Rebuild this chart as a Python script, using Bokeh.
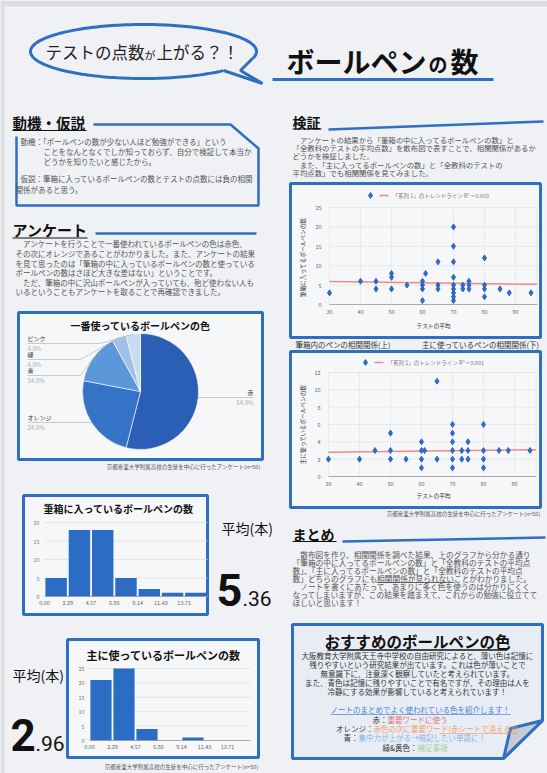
import numpy as np
from math import pi
from bokeh.plotting import figure
from bokeh.models import Range1d
from bokeh.core.properties import value
from bokeh.embed import file_html
from bokeh.resources import INLINE

# ---------------- data ----------------
pie_labels = ["赤", "オレンジ", "青", "緑", "ピンク"]
pie_values = [27, 12, 7, 2, 2]
pie_colors = ["#2b5fb5", "#3573c6", "#5b97d9", "#a2c0e8", "#c9dbf1"]

hist_bins = ["0.00", "2.29", "4.57", "6.86", "9.14", "11.43", "13.71"]
hist1_counts = [5, 18, 18, 5, 2, 1, 1]
hist2_counts = [21, 25, 4, 0, 1, 0, 0]
hist1_yticks = [0, 5, 10, 15, 20]
hist2_yticks = [0, 5, 10, 15, 20, 25]

s1_x = [30, 40, 45, 45, 50, 50, 50, 55, 60, 60, 60, 60, 61, 65, 65, 65, 70, 70, 70, 70, 70,
        70, 70, 70, 70, 73, 73, 75, 75, 75, 80, 80, 80, 80, 85, 88, 95]
s1_y = [3, 6, 6, 4, 8, 7, 4, 5, 6, 5, 4, 1, 8, 11, 5, 4, 20, 15, 11, 7, 5,
        4, 3, 2, 1, 5, 4, 6, 5, 4, 12, 5, 4, 2, 4, 3, 3]
s1_trend_x = [30, 97]
s1_trend_y = [5.9, 5.2]
s1_yticks = [0, 5, 10, 15, 20, 25]

s2_x = [30, 40, 45, 50, 50, 50, 55, 60, 60, 60, 60, 61, 65, 65, 70, 70, 70, 70, 70, 70,
        73, 73, 75, 75, 75, 80, 80, 80, 80, 85, 88, 95]
s2_y = [2, 2, 3, 5, 3, 2, 2, 4, 3, 2, 1, 3, 11, 2, 6, 5, 4, 3, 2, 1,
        3, 2, 4, 3, 2, 6, 3, 2, 1, 3, 3, 3]
s2_trend_x = [30, 97]
s2_trend_y = [2.8, 3.1]
s2_yticks = [0, 2, 4, 6, 8, 10, 12]

scatter_xticks = [30, 40, 50, 60, 70, 80, 90]

# ---------------- page ----------------
W, H = 547, 773
FONT = "Noto Sans CJK JP"
BLUE = "#2f6fc2"
BG = "#eff1f4"
BODY = "#555555"

p = figure(width=W, height=H, x_range=Range1d(0, W), y_range=Range1d(H, 0),
           output_backend="svg", toolbar_location=None, min_border=0,
           x_axis_location=None, y_axis_location=None, outline_line_color=None,
           background_fill_color=BG, border_fill_color=BG, title=None)
p.grid.visible = False


def add_xr(name, v0, v1, px0, px1):
    s = (v1 - v0) / (px1 - px0)
    r = dict(p.extra_x_ranges)
    r[name] = Range1d(v0 - px0 * s, v0 + (W - px0) * s)
    p.extra_x_ranges = r


def add_yr(name, v0, v1, py_bot, py_top):
    s = (v1 - v0) / (py_bot - py_top)
    start = v0 - (H - py_bot) * s
    r = dict(p.extra_y_ranges)
    r[name] = Range1d(start, start + H * s)
    p.extra_y_ranges = r


def T(x, y, s, size, color="#222222", align="left", bold=False, angle=0,
      baseline="middle", font=FONT, rn=None, **kw):
    extra = {}
    if rn:
        extra = dict(x_range_name=rn, y_range_name=rn)
    p.text(x=[x], y=[y], text=[s], text_font=value(font), text_font_size=f"{size}px",
           text_color=color, text_align=align, text_baseline=baseline,
           text_font_style="bold" if bold else "normal", angle=angle, **extra, **kw)


def L(xs, ys, color=BLUE, width=2.5, rn=None, **kw):
    extra = {}
    if rn:
        extra = dict(x_range_name=rn, y_range_name=rn)
    p.line(xs, ys, line_color=color, line_width=width, **extra, **kw)


def box(l, r, t, b, fill="#f6f7f9", color=BLUE, width=3):
    p.quad(left=l, right=r, top=t, bottom=b, fill_color=fill, line_color=color, line_width=width)


# photo edges
p.quad(left=0, right=W, top=0, bottom=6, fill_color="#dcdde1", line_color=None)
p.quad(left=0, right=4, top=0, bottom=H, fill_color="#dcdde1", line_color=None)

# ---------------- header ----------------
t = np.linspace(np.radians(45), np.radians(375), 200)
L(143 + 113 * np.cos(t), 51 + 27 * np.sin(t), width=3)
L([252, 240, 262, 223], [58, 70, 83, 70], width=3)
T(45, 51, "テストの点数", 16.5)
T(144, 54, "が", 11)
T(156, 51, "上がる？！", 16.5)

T(286, 60, "ボールペン", 28, bold=True, color="#111111")
T(428, 63, "の", 19, bold=True, color="#111111")
T(450, 60, "数", 28, bold=True, color="#111111")
L([272, 493], [79, 79], width=3)

# ---------------- 動機・仮説 ----------------
T(12, 122, "動機・仮説", 14.5, bold=True, color="#111111")
L([12, 86], [130, 130], color="#111111", width=1.2)
L([93, 230, 258, 258, 16, 16], [124, 124, 148, 205, 205, 136], width=2.5)
for x, y, s in [(20, 141, "動機：「ボールペンの数が少ない人ほど勉強ができる」という"),
                (43, 151, "ことをなんとなくでしか知っておらず、自分で検証して本当か"),
                (43, 161, "どうかを知りたいと感じたから。"),
                (20, 178, "仮説：筆箱に入っているボールペンの数とテストの点数には負の相関"),
                (15, 189, "関係があると思う。")]:
    T(x, y, s, 7.5, color=BODY)

# ---------------- アンケート ----------------
T(12, 229, "アンケート", 15, bold=True, color="#111111")
L([12, 87], [237.5, 237.5], color="#111111", width=1.2)
L([95, 256], [233, 233], width=2.5)
for x, y, s in [(15, 243, "　アンケートを行うことで一番使われているボールペンの色は赤色、"),
                (15, 253, "その次にオレンジであることがわかりました。また、アンケートの結果"),
                (15, 263, "を見て思ったのは「筆箱の中に入っているボールペンの数と使っている"),
                (15, 272, "ボールペンの数はさほど大きな差はない」ということです。"),
                (15, 282, "　ただ、筆箱の中に沢山ボールペンが入っていても、殆ど使わない人も"),
                (15, 291, "いるということもアンケートを取ることで再確認できました。")]:
    T(x, y, s, 7.5, color=BODY)

# ---------------- pie ----------------
box(18, 262, 312, 459)
T(140, 325, "一番使っているボールペンの色", 10, bold=True, align="center", color="#111111")
CX, CY, R = 140, 391, 58
vals = np.array(pie_values, dtype=float)
frac = vals / vals.sum()
cum = np.concatenate([[0.0], np.cumsum(frac)])
starts = pi / 2 - 2 * pi * cum[:-1]
ends = pi / 2 - 2 * pi * cum[1:]
p.wedge(x=CX, y=CY, radius=R, start_angle=starts, end_angle=ends, direction="clock",
        fill_color=pie_colors, line_color="white", line_width=0.6)
mids = (starts + ends) / 2
# label layout: (line y, elbow x, label x, align)
label_layout = [(397, None, 253, "right"), (422, None, 27, "left"), (375, 80, 27, "left"),
                (359, 80, 27, "left"), (343, 100, 27, "left")]
for i, (ly, ex, lx, al) in enumerate(label_layout):
    px_ = CX + R * np.cos(mids[i])
    py_ = CY - R * np.sin(mids[i])
    if ex is None:
        L([px_, lx], [ly, ly], color="#aaaaaa", width=0.6)
    else:
        L([px_, ex, lx], [py_, ly, ly], color="#aaaaaa", width=0.6)
    T(lx, ly - 5, pie_labels[i], 6, color="#333333", align=al)
    T(lx, ly + 5, f"{frac[i] * 100:.1f}%", 6, color="#aaaaaa", align=al)
T(260, 466, "京都産業大学附属高校の生徒を中心に行ったアンケート(n=50)", 5.5, color="#555555", align="right")


# ---------------- histograms ----------------
def hist_panel(name, counts, yticks, px0, px1, pyb, pyt):
    add_xr(name, 0, len(counts), px0, px1)
    add_yr(name, 0, yticks[-1], pyb, pyt)
    p.segment(x0=0, x1=len(counts), y0=yticks, y1=yticks, line_color="#dddddd",
              line_width=0.7, x_range_name=name, y_range_name=name)
    xs = np.arange(len(counts)) + 0.5
    p.vbar(x=xs, width=0.92, top=counts, bottom=0, fill_color="#2b6cc5", line_color=None,
           x_range_name=name, y_range_name=name)
    L([0, len(counts)], [0, 0], color="#999999", width=0.8, rn=name)
    p.text(x=np.arange(len(counts)), y=[0] * len(counts), text=hist_bins,
           text_font=value(FONT), text_font_size="5.5px", text_color="#666666",
           text_align="center", text_baseline="top", y_offset=3,
           x_range_name=name, y_range_name=name)
    p.text(x=[0] * len(yticks), y=yticks, text=[str(v) for v in yticks],
           text_font=value(FONT), text_font_size="5.5px", text_color="#777777",
           text_align="right", text_baseline="middle", x_offset=-5,
           x_range_name=name, y_range_name=name)


box(23, 207, 495, 614)
T(118, 508, "筆箱に入っているボールペンの数", 10, bold=True, align="center", color="#111111")
hist_panel("h1", hist1_counts, hist1_yticks, 44, 207, 596, 522)
T(221, 527, "平均(本)", 14, color="#111111")
T(216, 589, "5", 45, bold=True, font="Roboto", color="#111111")
T(242, 598, ".36", 21, font="Roboto", color="#111111")

box(67, 258, 639, 757)
T(163, 654, "主に使っているボールペンの数", 11, bold=True, align="center", color="#111111")
hist_panel("h2", hist2_counts, hist2_yticks, 89, 250, 740, 668)
T(12, 674, "平均(本)", 14, color="#111111")
T(10, 734, "2", 44, bold=True, font="Roboto", color="#111111")
T(35, 743, ".96", 21, font="Roboto", color="#111111")
T(258, 766, "京都産業大学附属高校の生徒を中心に行ったアンケート(n=50)", 5.5, color="#555555", align="right")

# ---------------- 検証 ----------------
T(292, 121, "検証", 14, bold=True, color="#111111")
L([292, 321], [128.5, 128.5], color="#111111", width=1.2)
L([328, 543], [129, 121], width=2.5)
for x, y, s in [(292, 139, "　アンケートの結果から「筆箱の中に入ってるボールペンの数」と"),
                (292, 147, "「全教科のテストの平均点数」を散布図で表すことで、相関関係があるか"),
                (292, 155, "どうかを検証しました。"),
                (292, 164, "　また、「主に入ってるボールペンの数」と「全教科のテストの"),
                (292, 172, "平均点数」でも相関関係を見てみました。")]:
    T(x, y, s, 7.4, color=BODY)


def scatter_panel(name, xs, ys, tx, ty, yticks, px30, px90, pyb, pyt, ytitle, ytitle_y,
                  xtitle_y, leg_x, leg_y, leg_text):
    add_xr(name, 30, 90, px30, px90)
    add_yr(name, 0, yticks[-1], pyb, pyt)
    xmax = 97
    p.segment(x0=scatter_xticks + [xmax], x1=scatter_xticks + [xmax], y0=0, y1=yticks[-1],
              line_color="#e2e2e2", line_width=0.7, x_range_name=name, y_range_name=name)
    p.segment(x0=30, x1=xmax, y0=yticks, y1=yticks, line_color="#e2e2e2", line_width=0.7,
              x_range_name=name, y_range_name=name)
    L([30, xmax], [0, 0], color="#999999", width=0.8, rn=name)
    L(tx, ty, color="#ee8a8a", width=1.5, rn=name)
    p.scatter(xs, ys, marker="diamond", size=6, fill_color="#2f68c8", line_color="#2f68c8",
              x_range_name=name, y_range_name=name)
    p.text(x=scatter_xticks, y=[0] * len(scatter_xticks), text=[str(v) for v in scatter_xticks],
           text_font=value(FONT), text_font_size="5.5px", text_color="#666666",
           text_align="center", text_baseline="top", y_offset=4,
           x_range_name=name, y_range_name=name)
    p.text(x=[30] * len(yticks), y=yticks, text=[str(v) for v in yticks],
           text_font=value(FONT), text_font_size="5.5px", text_color="#666666",
           text_align="right", text_baseline="middle", x_offset=-8,
           x_range_name=name, y_range_name=name)
    T(302, ytitle_y, ytitle, 5.7, color="#333333", align="center", angle=pi / 2)
    T(433, xtitle_y, "テストの平均", 5.7, color="#333333", align="center")
    p.scatter([leg_x], [leg_y], marker="diamond", size=6, color="#2f68c8")
    L([leg_x + 9, leg_x + 18], [leg_y, leg_y], color="#ee8a8a", width=1.5)
    T(leg_x + 22, leg_y, leg_text, 5.5, color="#777777")


box(290, 540, 183, 337)
scatter_panel("s1", s1_x, s1_y, s1_trend_x, s1_trend_y, s1_yticks, 329, 515, 304, 207,
              "筆箱に入ってるボールペンの数", 257, 325, 370, 195,
              "「系列 1」のトレンドライン R² = 0.003")

T(295, 344, "筆箱内のペンの相関関係(上)", 7.5, color="#333333")
T(539, 344, "主に使っているペンの相関関係(下)", 7.5, color="#333333", align="right")

box(290, 540, 351, 507)
scatter_panel("s2", s2_x, s2_y, s2_trend_x, s2_trend_y, s2_yticks, 328, 514, 476, 372,
              "主に使っているボールペンの数", 424, 495, 365, 362,
              "「系列 1」のトレンドライン R² = 0.001")
T(540, 513, "京都産業大学附属高校の生徒を中心に行ったアンケート(n=50)", 5.5, color="#555555", align="right")

# ---------------- まとめ ----------------
T(292, 533, "まとめ", 14, bold=True, color="#111111")
L([292, 336], [541, 541], color="#111111", width=1.2)
L([342, 545], [541, 537], width=2.5)
for x, y, s in [(292, 554, "　散布図を作り、相関関係を調べた結果、上のグラフから分かる通り"),
                (292, 562, "「筆箱の中に入ってるボールペンの数」と「全教科のテストの平均点"),
                (292, 570, "数」、「主に入ってるボールペンの数」と「全教科のテストの平均点"),
                (292, 578, "数」どちらのグラフにも相関関係が見られないことがわかりました。"),
                (292, 586, "　ノートを書くにあたって、あまりに多く色を使うのは分かりにくく"),
                (292, 594, "なってしまいますが、この結果を踏まえて、これからの勉強に役立てて"),
                (292, 602, "ほしいと思います！")]:
    T(x, y, s, 7.7, color=BODY)
L([376, 454], [582, 582], color="#333333", width=0.7)

# ---------------- おすすめ ----------------
p.patch([292, 542, 542, 503, 292], [624, 624, 720, 758, 758], fill_color="#e8edf5",
        line_color=BLUE, line_width=3)
p.patch([510, 542, 503], [728, 720, 758], fill_color="#c6cbd4", line_color=BLUE, line_width=3)
T(417, 640, "おすすめのボールペンの色", 15.5, bold=True, align="center", color="#111111")
L([327, 507], [649.5, 649.5], color="#111111", width=1.3)
for y, s in [(655, "大阪教育大学附属天王寺中学校の自由研究によると、薄い色は記憶に"),
             (664, "残りやすいという研究結果が出ています。これは色が薄いことで"),
             (673, "無意識下に、注意深く観察していたと考えられています。"),
             (682, "また、青色は記憶に残りやすいことで有名ですが、その理由は人を"),
             (691, "冷静にする効果が影響していると考えられています！")]:
    T(417, y, s, 7.5, color="#333333", align="center")
T(420, 709, "ノートのまとめでよく使われている色を紹介します！", 7.5, color="#4b7fd6", align="center")
L([330, 510], [714, 714], color="#4b7fd6", width=0.7)
for sx, y, lab, txt, col in [(387, 719, "赤：", "重要ワードに使う", "#e8706a"),
                             (373, 728, "オレンジ：", "赤色の次に重要ワード(赤シートで消える!!)", "#f0a070"),
                             (358, 737, "青：", "集中力が上がる→暗記したい単語に！", "#86b3e6"),
                             (417, 747, "緑&黄色：", "補足事項", "#a6d197")]:
    T(sx, y, lab, 7.5, color="#333333", align="right")
    T(sx, y, txt, 7.5, color=col)
L([439, 517], [733, 733], color="#f0a070", width=0.7)

open("out.html", "w").write(file_html(p, INLINE))
